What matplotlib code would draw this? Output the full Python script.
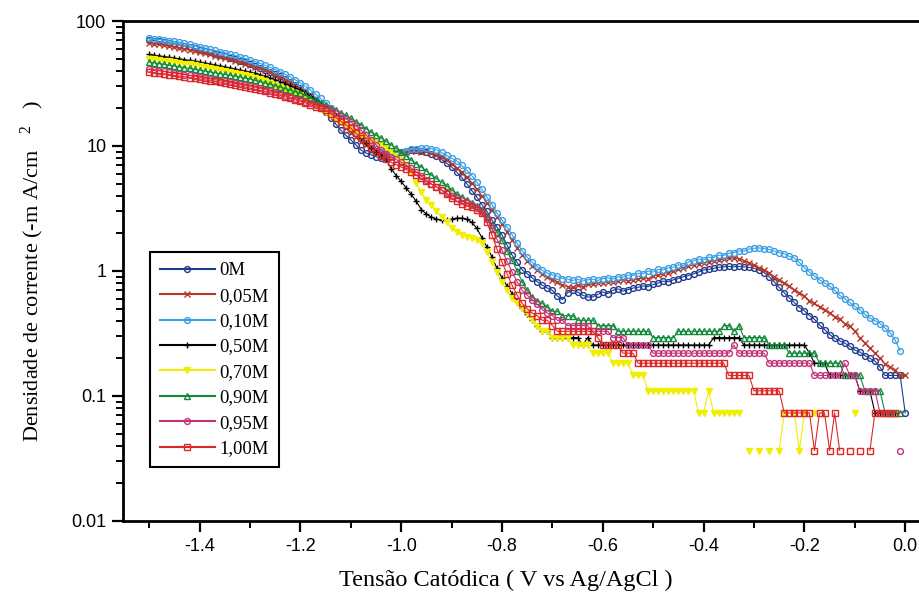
import numpy as np
import matplotlib
matplotlib.use("Agg")
import matplotlib.pyplot as plt
from matplotlib.ticker import FixedLocator, FixedFormatter, LogLocator, NullFormatter

nan = float("nan")

# Cathodic potential (V vs Ag/AgCl), -1.50 ... 0.00 in 0.01 V steps
voltage = [round(-1.50 + 0.01 * i, 2) for i in range(151)]

labels = ["0M", "0,05M", "0,10M", "0,50M", "0,70M", "0,90M", "0,95M", "1,00M"]

c_0M = [70.5, 69.6, 68.7, 67.7, 66.7, 65.6, 64.4, 63.2, 61.9, 60.3,
        58.6, 57.3, 56.0, 54.7, 53.4, 52.1, 50.8, 49.4, 48.0, 46.7,
        45.3, 43.8, 42.3, 40.8, 39.2, 37.6, 36.0, 34.3, 32.6, 30.9,
        29.1, 27.0, 25.0, 23.0, 20.8, 18.7, 16.8, 15.0, 13.4, 12.2,
        11.2, 10.2, 9.3, 8.8, 8.5, 8.2, 8.0, 8.0, 8.3, 8.6,
        8.95, 9.1, 9.3, 9.3, 9.2, 9.0, 8.6, 8.3, 7.8, 7.3,
        6.8, 6.2, 5.6, 5.0, 4.4, 3.9, 3.4, 3.0, 2.56, 2.25,
        1.94, 1.62, 1.34, 1.17, 1.02, 0.95, 0.88, 0.82, 0.77, 0.73,
        0.70, 0.63, 0.59, 0.67, 0.70, 0.68, 0.64, 0.62, 0.62, 0.65,
        0.68, 0.66, 0.70, 0.72, 0.69, 0.71, 0.73, 0.74, 0.76, 0.75,
        0.78, 0.80, 0.83, 0.82, 0.85, 0.87, 0.90, 0.92, 0.95, 0.98,
        1.02, 1.03, 1.05, 1.07, 1.08, 1.09, 1.08, 1.09, 1.08, 1.07,
        1.05, 1.02, 0.97, 0.90, 0.82, 0.74, 0.67, 0.61, 0.56, 0.51,
        0.48, 0.44, 0.41, 0.37, 0.34, 0.31, 0.29, 0.276, 0.265, 0.25,
        0.233, 0.225, 0.21, 0.20, 0.19, 0.17, 0.146, 0.146, 0.146, 0.146, 0.0732]

c_005M = [66.7, 65.8, 64.9, 63.9, 62.9, 61.9, 60.8, 59.7, 58.6, 57.6,
          56.5, 55.3, 54.1, 52.9, 51.7, 50.5, 49.3, 48.1, 46.8, 45.6,
          44.5, 43.1, 41.7, 40.3, 38.8, 37.3, 35.7, 34.0, 32.3, 30.7,
          29.1, 27.3, 25.5, 23.7, 21.9, 20.2, 18.5, 16.9, 15.4, 14.0,
          12.7, 11.7, 10.8, 10.1, 9.6, 9.2, 8.95, 8.8, 8.8, 8.9,
          8.95, 9.0, 9.1, 9.1, 9.0, 9.1, 8.8, 8.5, 8.2, 7.7,
          7.2, 6.7, 6.2, 5.6, 5.05, 4.5, 4.0, 3.5, 3.07, 2.7,
          2.38, 2.05, 1.77, 1.54, 1.34, 1.21, 1.10, 1.02, 0.95, 0.90,
          0.85, 0.81, 0.77, 0.75, 0.74, 0.77, 0.75, 0.79, 0.78, 0.80,
          0.80, 0.82, 0.81, 0.83, 0.85, 0.83, 0.85, 0.86, 0.88, 0.87,
          0.91, 0.93, 0.95, 0.97, 1.00, 1.03, 1.06, 1.09, 1.12, 1.14,
          1.16, 1.18, 1.20, 1.22, 1.24, 1.26, 1.27, 1.25, 1.21, 1.16,
          1.12, 1.06, 1.01, 0.96, 0.90, 0.85, 0.80, 0.76, 0.71, 0.67,
          0.63, 0.58, 0.55, 0.515, 0.49, 0.46, 0.43, 0.41, 0.38, 0.36,
          0.33, 0.29, 0.265, 0.24, 0.22, 0.20, 0.18, 0.17, 0.16, 0.146, 0.146]

c_010M = [73.0, 72.2, 71.4, 70.5, 69.6, 68.6, 67.5, 66.3, 65.0, 63.6,
          62.2, 60.9, 59.6, 58.3, 57.0, 55.7, 54.4, 53.0, 51.6, 50.2,
          48.8, 47.3, 45.8, 44.2, 42.6, 40.9, 39.2, 37.4, 35.6, 33.8,
          32.0, 30.0, 28.0, 26.0, 24.0, 22.0, 20.1, 18.3, 16.6, 15.1,
          13.9, 12.8, 11.8, 10.9, 10.0, 9.4, 9.0, 8.8, 8.7, 8.8,
          9.0, 9.2, 9.4, 9.5, 9.6, 9.6, 9.5, 9.3, 8.9, 8.4,
          8.0, 7.6, 7.0, 6.4, 5.8, 5.15, 4.5, 3.9, 3.4, 2.9,
          2.55, 2.25, 1.95, 1.67, 1.45, 1.29, 1.17, 1.08, 1.01, 0.96,
          0.93, 0.91, 0.87, 0.86, 0.84, 0.86, 0.83, 0.85, 0.86, 0.84,
          0.87, 0.88, 0.86, 0.90, 0.89, 0.93, 0.92, 0.96, 0.95, 1.00,
          0.98, 1.03, 1.02, 1.06, 1.07, 1.12, 1.10, 1.18, 1.20, 1.25,
          1.22, 1.29, 1.28, 1.34, 1.33, 1.39, 1.40, 1.45, 1.44, 1.50,
          1.52, 1.53, 1.51, 1.49, 1.44, 1.40, 1.37, 1.31, 1.27, 1.17,
          1.06, 0.98, 0.91, 0.85, 0.80, 0.76, 0.70, 0.64, 0.60, 0.56,
          0.52, 0.49, 0.45, 0.42, 0.40, 0.38, 0.35, 0.32, 0.28, 0.23, nan]

c_050M = [54.0, 53.3, 52.6, 51.9, 51.2, 50.5, 49.8, 49.1, 48.4, 47.7,
          47.0, 46.2, 45.4, 44.6, 43.8, 43.0, 42.2, 41.4, 40.5, 39.8,
          39.1, 38.1, 37.1, 36.1, 35.0, 33.9, 32.8, 31.6, 30.4, 29.2,
          28.0, 26.5, 25.0, 23.4, 21.8, 20.2, 18.8, 17.4, 16.2, 15.1,
          14.2, 12.9, 11.6, 10.5, 9.6, 9.0, 8.5, 7.8, 6.6, 5.8,
          5.2, 4.6, 4.1, 3.6, 3.1, 2.85, 2.7, 2.6, 2.56, 2.56,
          2.6, 2.65, 2.65, 2.6, 2.45, 2.2, 1.85, 1.55, 1.3, 1.05,
          0.88, 0.76, 0.66, 0.58, 0.51, 0.45, 0.403, 0.366, 0.329, 0.329,
          0.293, 0.293, 0.293, 0.293, 0.293, 0.293, 0.256, 0.293, 0.256, 0.256,
          0.256, 0.256, 0.256, 0.256, 0.256, 0.256, 0.256, 0.256, 0.256, 0.256,
          0.256, 0.256, 0.256, 0.256, 0.256, 0.256, 0.256, 0.256, 0.256, 0.256,
          0.256, 0.256, 0.293, 0.293, 0.293, 0.293, 0.293, 0.293, 0.256, 0.256,
          0.256, 0.256, 0.256, 0.256, 0.256, 0.256, 0.256, 0.256, 0.256, 0.256,
          0.256, 0.22, 0.183, 0.183, 0.183, 0.146, 0.146, 0.146, 0.146, 0.146,
          0.146, 0.11, 0.11, 0.11, 0.0732, 0.0732, 0.0732, 0.0732, 0.0732, nan, nan]

c_070M = [50.1, 49.4, 48.8, 48.1, 47.5, 46.8, 46.2, 45.5, 44.9, 44.2,
          43.6, 42.8, 42.0, 41.3, 40.5, 39.7, 39.0, 38.2, 37.5, 36.9,
          36.3, 35.2, 34.1, 33.0, 31.9, 30.8, 29.7, 28.6, 27.5, 26.5,
          25.5, 23.9, 22.4, 21.0, 19.8, 18.7, 17.6, 16.5, 15.5, 14.7,
          13.9, 13.0, 12.2, 11.7, 11.2, 10.7, 10.2, 9.6, 8.95, 8.3,
          7.7, 7.05, 6.1, 5.05, 4.28, 3.7, 3.38, 3.02, 2.7, 2.47,
          2.2, 2.05, 1.94, 1.87, 1.84, 1.77, 1.67, 1.42, 1.18, 0.98,
          0.82, 0.70, 0.61, 0.55, 0.506, 0.46, 0.403, 0.366, 0.329, 0.329,
          0.293, 0.293, 0.293, 0.293, 0.256, 0.256, 0.256, 0.256, 0.22, 0.22,
          0.22, 0.22, 0.183, 0.183, 0.183, 0.183, 0.146, 0.146, 0.146, 0.11,
          0.11, 0.11, 0.11, 0.11, 0.11, 0.11, 0.11, 0.11, 0.11, 0.0732,
          0.0732, 0.11, 0.0732, 0.0732, 0.0732, 0.0732, 0.0732, 0.0732, nan, 0.0366,
          nan, 0.0366, nan, 0.0366, nan, 0.0366, 0.0732, nan, 0.0732, 0.0366,
          0.0732, nan, 0.0732, nan, nan, nan, nan, nan, nan, nan,
          0.0732, nan, nan, nan, nan, nan, nan, nan, nan, nan, nan]

c_090M = [47.0, 46.3, 45.7, 45.0, 44.3, 43.7, 43.0, 42.4, 41.7, 41.0,
          40.4, 39.8, 39.2, 38.6, 38.0, 37.4, 36.8, 36.2, 35.6, 35.0,
          34.4, 33.6, 32.8, 32.0, 31.2, 30.4, 29.6, 28.8, 28.0, 27.2,
          26.5, 25.4, 24.3, 23.2, 22.2, 21.3, 20.3, 19.4, 18.5, 17.6,
          16.7, 15.7, 14.8, 13.8, 12.9, 12.2, 11.6, 10.9, 10.2, 9.6,
          8.95, 8.3, 7.7, 7.2, 6.8, 6.3, 5.85, 5.5, 5.15, 4.8,
          4.45, 4.15, 3.9, 3.7, 3.5, 3.3, 3.07, 2.7, 2.33, 2.05,
          1.77, 1.45, 1.22, 1.0, 0.82, 0.70, 0.62, 0.58, 0.55, 0.512,
          0.476, 0.476, 0.439, 0.439, 0.439, 0.403, 0.403, 0.403, 0.403, 0.366,
          0.366, 0.366, 0.366, 0.329, 0.329, 0.329, 0.329, 0.329, 0.329, 0.329,
          0.293, 0.293, 0.293, 0.293, 0.293, 0.329, 0.329, 0.329, 0.329, 0.329,
          0.329, 0.329, 0.329, 0.329, 0.366, 0.366, 0.329, 0.366, 0.293, 0.293,
          0.293, 0.293, 0.293, 0.256, 0.256, 0.256, 0.256, 0.22, 0.22, 0.22,
          0.22, 0.22, 0.22, 0.183, 0.183, 0.183, 0.183, 0.183, 0.146, 0.146,
          0.146, 0.146, 0.11, 0.11, 0.11, 0.11, 0.0732, 0.0732, 0.0732, 0.0732, nan]

c_095M = [41.3, 40.7, 40.1, 39.5, 39.0, 38.4, 37.9, 37.3, 36.7, 36.2,
          35.6, 35.0, 34.5, 33.9, 33.4, 32.9, 32.3, 31.8, 31.2, 30.7,
          30.2, 29.6, 29.0, 28.3, 27.6, 26.9, 26.1, 25.3, 24.5, 23.9,
          23.3, 22.6, 21.9, 21.3, 20.7, 20.2, 19.3, 18.4, 17.5, 16.5,
          15.6, 14.5, 13.4, 12.3, 11.2, 10.2, 9.3, 8.7, 8.2, 7.8,
          7.4, 7.0, 6.65, 6.2, 5.75, 5.35, 4.96, 4.7, 4.45, 4.2,
          3.98, 3.85, 3.7, 3.55, 3.38, 3.2, 2.97, 2.6, 2.2, 1.8,
          1.47, 1.2, 0.98, 0.82, 0.70, 0.64, 0.59, 0.54, 0.49, 0.46,
          0.439, 0.403, 0.403, 0.366, 0.366, 0.366, 0.366, 0.366, 0.329, 0.329,
          0.329, 0.329, 0.293, 0.293, 0.293, 0.256, 0.256, 0.256, 0.256, 0.256,
          0.22, 0.22, 0.22, 0.22, 0.22, 0.22, 0.22, 0.22, 0.22, 0.22,
          0.22, 0.22, 0.22, 0.22, 0.22, 0.22, 0.256, 0.22, 0.22, 0.22,
          0.22, 0.22, 0.22, 0.183, 0.183, 0.183, 0.183, 0.183, 0.183, 0.183,
          0.183, 0.183, 0.146, 0.146, 0.146, 0.146, 0.146, 0.146, 0.183, 0.146,
          0.146, 0.11, 0.11, 0.11, 0.11, 0.0732, 0.0732, 0.0732, nan, 0.0366, nan]

c_100M = [39.1, 38.6, 38.1, 37.6, 37.1, 36.7, 36.2, 35.8, 35.3, 34.9,
          34.4, 33.9, 33.4, 32.9, 32.4, 31.9, 31.3, 30.8, 30.2, 29.7,
          29.1, 28.5, 27.9, 27.3, 26.7, 26.1, 25.4, 24.7, 24.0, 23.4,
          22.9, 22.1, 21.4, 20.7, 20.0, 19.4, 18.1, 16.9, 15.8, 14.8,
          13.9, 12.7, 11.6, 10.6, 9.6, 8.9, 8.3, 7.8, 7.4, 7.1,
          6.8, 6.5, 6.2, 5.85, 5.5, 5.2, 4.96, 4.7, 4.45, 4.1,
          3.84, 3.6, 3.43, 3.3, 3.25, 3.1, 2.91, 2.45, 1.94, 1.5,
          1.18, 0.95, 0.77, 0.64, 0.55, 0.50, 0.46, 0.439, 0.403, 0.403,
          0.366, 0.329, 0.329, 0.329, 0.329, 0.329, 0.329, 0.329, 0.329, 0.293,
          0.256, 0.256, 0.256, 0.256, 0.22, 0.22, 0.22, 0.183, 0.183, 0.183,
          0.183, 0.183, 0.183, 0.183, 0.183, 0.183, 0.183, 0.183, 0.183, 0.183,
          0.183, 0.183, 0.183, 0.183, 0.183, 0.146, 0.146, 0.146, 0.146, 0.146,
          0.11, 0.11, 0.11, 0.11, 0.11, 0.11, 0.0732, 0.0732, 0.0732, 0.0732,
          0.0732, 0.0732, 0.0366, 0.0732, 0.0732, 0.0366, 0.0732, 0.0366, nan, 0.0366,
          nan, 0.0366, nan, 0.0366, 0.0732, 0.0732, 0.0732, 0.0732, 0.0732, nan, nan]

series = [c_0M, c_005M, c_010M, c_050M, c_070M, c_090M, c_095M, c_100M]
colors = ["#1d3b8f", "#b5392c", "#3a9ee4", "#000000",
          "#f2ee00", "#148a3c", "#c4327a", "#dc2828"]
markers = ["o", "x", "o", "+", "v", "^", "o", "s"]

x_ticks = [-1.4, -1.2, -1.0, -0.8, -0.6, -0.4, -0.2, 0.0]
x_ticklabels = ["-1.4", "-1.2", "-1.0", "-0.8", "-0.6", "-0.4", "-0.2", "0.0"]
x_minor = [-1.5, -1.3, -1.1, -0.9, -0.7, -0.5, -0.3, -0.1]
y_ticks = [0.01, 0.1, 1, 10, 100]
y_ticklabels = ["0.01", "0.1", "1", "10", "100"]

plt.rcParams["axes.unicode_minus"] = False
plt.rcParams["mathtext.fontset"] = "custom"
plt.rcParams["mathtext.rm"] = "Liberation Serif"

fig = plt.figure(figsize=(9.2, 5.95), dpi=100)
ax = fig.add_axes([0.1337, 0.1244, 0.8776, 0.8403])

for vals, col, mk, lab in zip(series, colors, markers, labels):
    filled = mk in ("v",)
    ax.plot(voltage, vals, color=col, lw=0.8, marker=mk,
            markersize=4.2 if mk not in ("+", "x") else 4.6,
            markeredgewidth=1.0,
            markerfacecolor=col if filled else "none",
            markeredgecolor=col, label=lab)

ax.set_yscale("log")
ax.set_xlim(-1.552, 0.05)
ax.set_ylim(0.01, 100)

ax.xaxis.set_major_locator(FixedLocator(x_ticks))
ax.xaxis.set_major_formatter(FixedFormatter(x_ticklabels))
ax.xaxis.set_minor_locator(FixedLocator(x_minor))
ax.yaxis.set_major_locator(FixedLocator(y_ticks))
ax.yaxis.set_major_formatter(FixedFormatter(y_ticklabels))
ax.yaxis.set_minor_locator(LogLocator(base=10, subs=np.arange(2, 10)))
ax.yaxis.set_minor_formatter(NullFormatter())

for side in ("left", "bottom", "top"):
    ax.spines[side].set_linewidth(2.0)
ax.spines["right"].set_visible(False)

ax.tick_params(which="major", direction="out", length=8, width=1.6,
               labelsize=13, pad=4)
ax.tick_params(which="minor", direction="out", length=5, width=1.4)
for t in ax.get_xticklabels() + ax.get_yticklabels():
    t.set_fontfamily("Liberation Sans")

ax.set_xlabel("Tensão Catódica ( V vs Ag/AgCl )", family="Liberation Serif",
              fontsize=17.5)
ax.xaxis.set_label_coords((506 - 123) / 807, -0.097)
ax.set_ylabel(r"Densidade de corrente (-m A/cm   $\mathrm{^{2}}$   )",
              family="Liberation Serif", fontsize=16, labelpad=18)

leg = ax.legend(loc="upper left", bbox_to_anchor=(150 / 920, 1 - 252 / 595),
                bbox_transform=fig.transFigure, frameon=True, fancybox=False,
                edgecolor="black", framealpha=1, numpoints=1,
                prop={"family": "Liberation Serif", "size": 13.5},
                handlelength=2.9, handletextpad=0.25, labelspacing=0.44,
                borderpad=0.55, borderaxespad=0)
leg.get_frame().set_linewidth(1.5)
for line in leg.get_lines():
    line.set_linewidth(1.5)

fig.savefig("out.png", dpi=100)
